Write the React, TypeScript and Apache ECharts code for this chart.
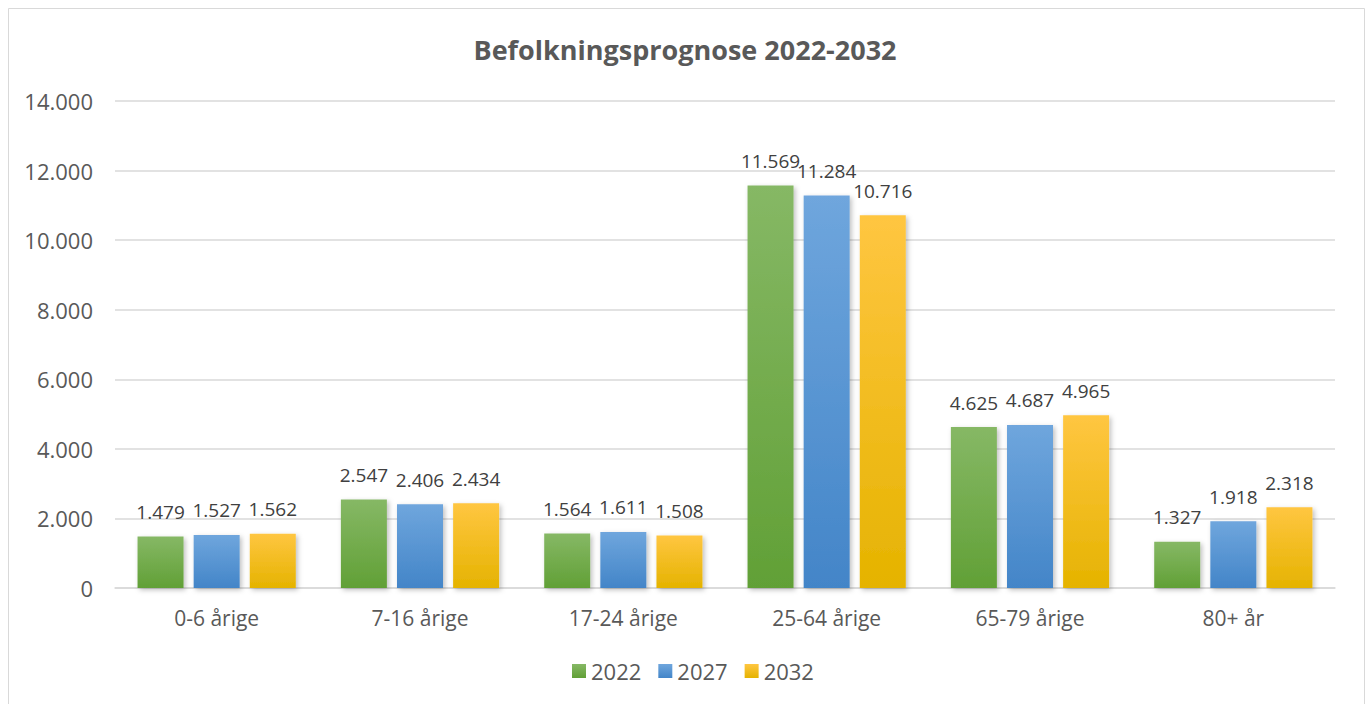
import React, { useEffect, useRef } from "react";
import * as echarts from "echarts";

const categories = ["0-6 årige", "7-16 årige", "17-24 årige", "25-64 årige", "65-79 årige", "80+ år"];
const seriesNames = ["2022", "2027", "2032"];
const values2022 = [1479, 2547, 1564, 11569, 4625, 1327];
const values2027 = [1527, 2406, 1611, 11284, 4687, 1918];
const values2032 = [1562, 2434, 1508, 10716, 4965, 2318];
const gradients: [string, string][] = [
  ["#86b865", "#61a036"],
  ["#6fa6dd", "#4385c8"],
  ["#ffc641", "#e5b300"],
];

const fmt = (v: number) => String(Math.round(v)).replace(/\B(?=(\d{3})+(?!\d))/g, ".");
const FONT = "'Open Sans', sans-serif";

export default function App() {
  const ref = useRef<HTMLDivElement>(null);
  useEffect(() => {
    if (!ref.current) return;
    const chart = echarts.init(ref.current, undefined, { renderer: "svg" });
    const data = [values2022, values2027, values2032];
    chart.setOption({
      animation: false,
      textStyle: { fontFamily: FONT },
      title: {
        text: "Befolkningsprognose 2022-2032",
        left: "center",
        top: 31,
        textStyle: { fontSize: 27, fontWeight: "bold", color: "#595959", fontFamily: FONT },
      },
      graphic: [
        {
          type: "rect",
          shape: { x: 8.5, y: 8.5, width: 1356, height: 720 },
          style: { fill: "none", stroke: "#d9d9d9", lineWidth: 1 },
          silent: true,
        },
      ],
      legend: {
        top: 655,
        left: 567,
        itemWidth: 14,
        itemHeight: 14,
        itemGap: 17,
        icon: "rect",
        textStyle: { fontSize: 22, color: "#595959", fontFamily: FONT },
        data: seriesNames,
      },
      grid: { left: 115, right: 35, top: 101, bottom: 116, containLabel: false },
      xAxis: {
        type: "category",
        data: categories,
        axisLine: { lineStyle: { color: "#d9d9d9", width: 1.5 } },
        axisTick: { show: false },
        axisLabel: { fontSize: 21, color: "#595959", margin: 19, fontFamily: FONT },
      },
      yAxis: {
        type: "value",
        min: 0,
        max: 14000,
        interval: 2000,
        axisLine: { show: false },
        axisTick: { show: false },
        splitLine: { lineStyle: { color: "#d9d9d9", width: 1.5 } },
        axisLabel: { fontSize: 22, color: "#595959", margin: 22, formatter: (v: number) => fmt(v), fontFamily: FONT },
      },
      series: seriesNames.map((name, i) => ({
        name,
        type: "bar",
        data: data[i],
        barWidth: 46,
        barGap: "22%",
        itemStyle: {
          color: new echarts.graphic.LinearGradient(0, 0, 0, 1, [
            { offset: 0, color: gradients[i][0] },
            { offset: 1, color: gradients[i][1] },
          ]),
          shadowBlur: 5,
          shadowOffsetX: 2,
          shadowOffsetY: 2,
          shadowColor: "rgba(0,0,0,0.25)",
        },
        label: {
          show: true,
          position: "top",
          distance: 15,
          fontSize: 19,
          color: "#404040",
          fontFamily: FONT,
          formatter: (p: any) => fmt(p.value),
        },
      })),
    });
    return () => chart.dispose();
  }, []);
  return (
    <div
      ref={ref}
      style={{ position: "fixed", left: 0, top: 0, width: 1370, height: 704, background: "#fff" }}
    />
  );
}
